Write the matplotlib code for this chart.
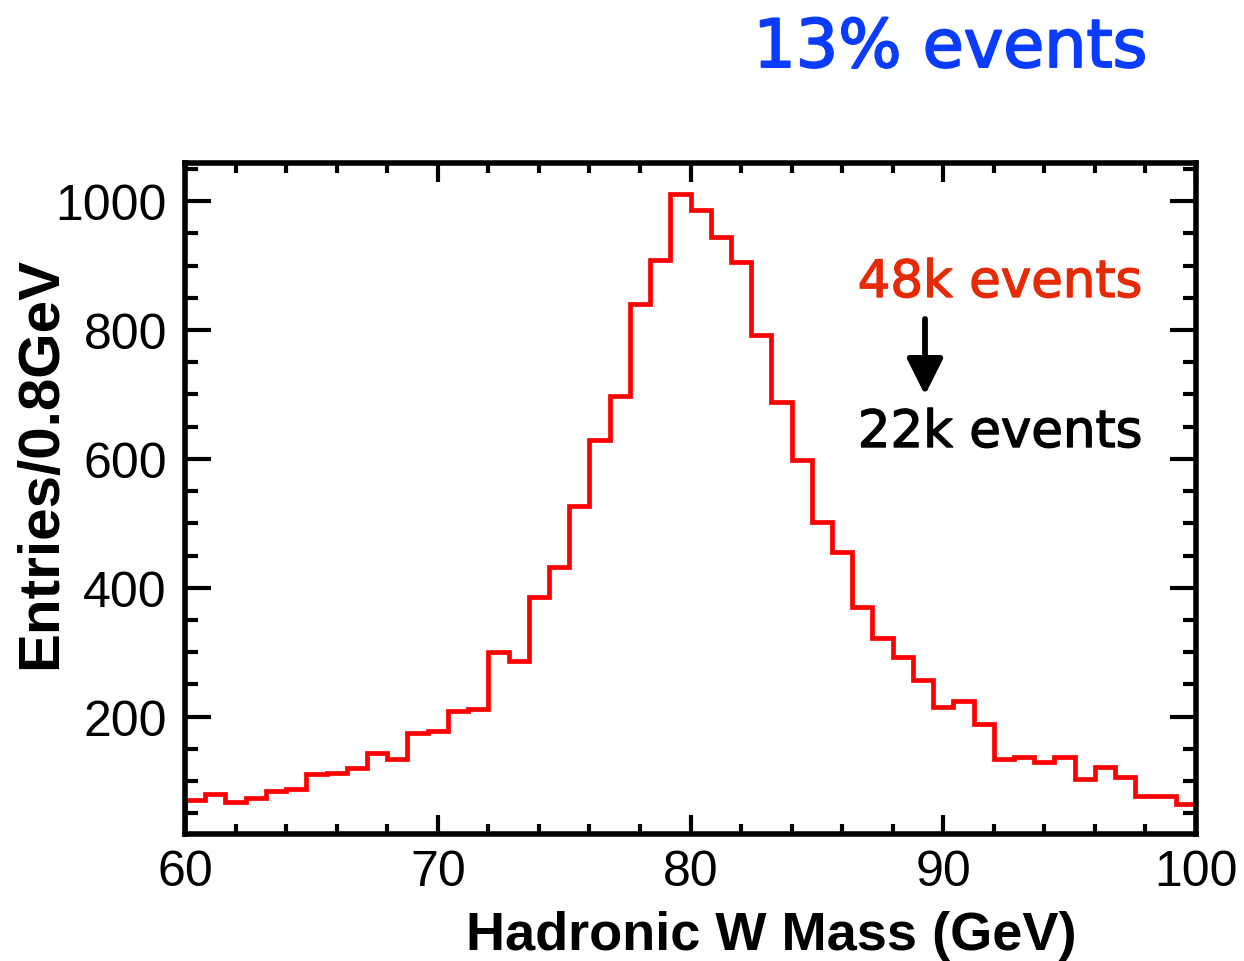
import numpy as np
import matplotlib
matplotlib.use("Agg")
import matplotlib.pyplot as plt
import matplotlib.patheffects as pe
from matplotlib.ticker import MultipleLocator

# ---- data ----
bin_low = 60.0
bin_width = 0.8
counts = [70, 80, 68, 74, 85, 88, 111, 113, 120, 143,
          134, 174, 178, 209, 212, 300, 286, 386, 433, 527,
          630, 697, 841, 908, 1011, 986, 945, 905, 793, 689,
          598, 502, 455, 370, 322, 292, 257, 215, 224, 188,
          135, 137, 130, 138, 103, 122, 107, 77, 77, 64]
edges = bin_low + bin_width * np.arange(len(counts) + 1)

x_ticks = [60, 70, 80, 90, 100]
y_ticks = [200, 400, 600, 800, 1000]

title_text = "13% events"
before_text = "48k events"
after_text = "22k events"
x_label = "Hadronic W Mass (GeV)"
y_label = "Entries/0.8GeV"

W, H = 1244, 962
fig = plt.figure(figsize=(W / 100, H / 100), dpi=100)
ax = fig.add_axes([185 / W, 1 - 835 / H, (1196 - 185) / W, (835 - 163.5) / H])

ax.stairs(counts, edges, baseline=0, color="#ff0000", linewidth=3.4, zorder=2)

ax.set_xlim(60, 100)
ax.set_ylim(18, 1060)

ax.xaxis.set_major_locator(MultipleLocator(10))
ax.xaxis.set_minor_locator(MultipleLocator(2))
ax.yaxis.set_major_locator(MultipleLocator(200))
ax.yaxis.set_minor_locator(MultipleLocator(50))
ax.set_xticks(x_ticks)
ax.set_yticks(y_ticks)

tick_font = "Liberation Sans"
for s in ax.spines.values():
    s.set_linewidth(4)
    s.set_zorder(3)

ax.tick_params(axis="both", which="both", direction="in", top=True, right=True,
               width=3, colors="black")
ax.tick_params(axis="y", which="major", length=19, pad=13, labelsize=36)
ax.tick_params(axis="y", which="minor", length=9.5)
ax.tick_params(axis="x", which="major", length=14, pad=11, labelsize=36)
ax.tick_params(axis="x", which="minor", length=7)
for lab in ax.get_xticklabels() + ax.get_yticklabels():
    lab.set_fontfamily(tick_font)

ax.set_xlabel(x_label, fontsize=39, fontweight="bold", family="Liberation Sans",
              va="baseline", ha="center")
ax.xaxis.set_label_coords((771 - 185) / (1196 - 185), (835 - 950) / (835 - 163.5))
ax.set_ylabel(y_label, fontsize=42, fontweight="bold", family="Liberation Sans",
              va="center", ha="center")
ax.yaxis.set_label_coords((41 - 185) / (1196 - 185), (835 - 463) / (835 - 163.5))

# annotation texts (medium weight via thin stroke)
ann_font = "DejaVu Sans"
def add_text(x, y, s, color, size, stroke):
    fig.text(x / W, 1 - y / H, s, color=color, fontsize=size, family=ann_font,
             ha="center", va="baseline",
             path_effects=[pe.withStroke(linewidth=stroke, foreground=color)])

add_text(950, 68, title_text, "#0a3cff", 48, 1.4)
add_text(1000, 298, before_text, "#e62a05", 37, 1.0)
add_text(1000, 448, after_text, "black", 37, 1.0)

ax.annotate("", xy=(925, H - 396), xycoords="figure pixels",
            xytext=(925, H - 320), textcoords="figure pixels",
            arrowprops=dict(arrowstyle="-|>,head_length=0.4,head_width=0.2",
                            color="black", lw=4.2, mutation_scale=55,
                            shrinkA=0, shrinkB=0))

fig.savefig("out.png", dpi=100)
